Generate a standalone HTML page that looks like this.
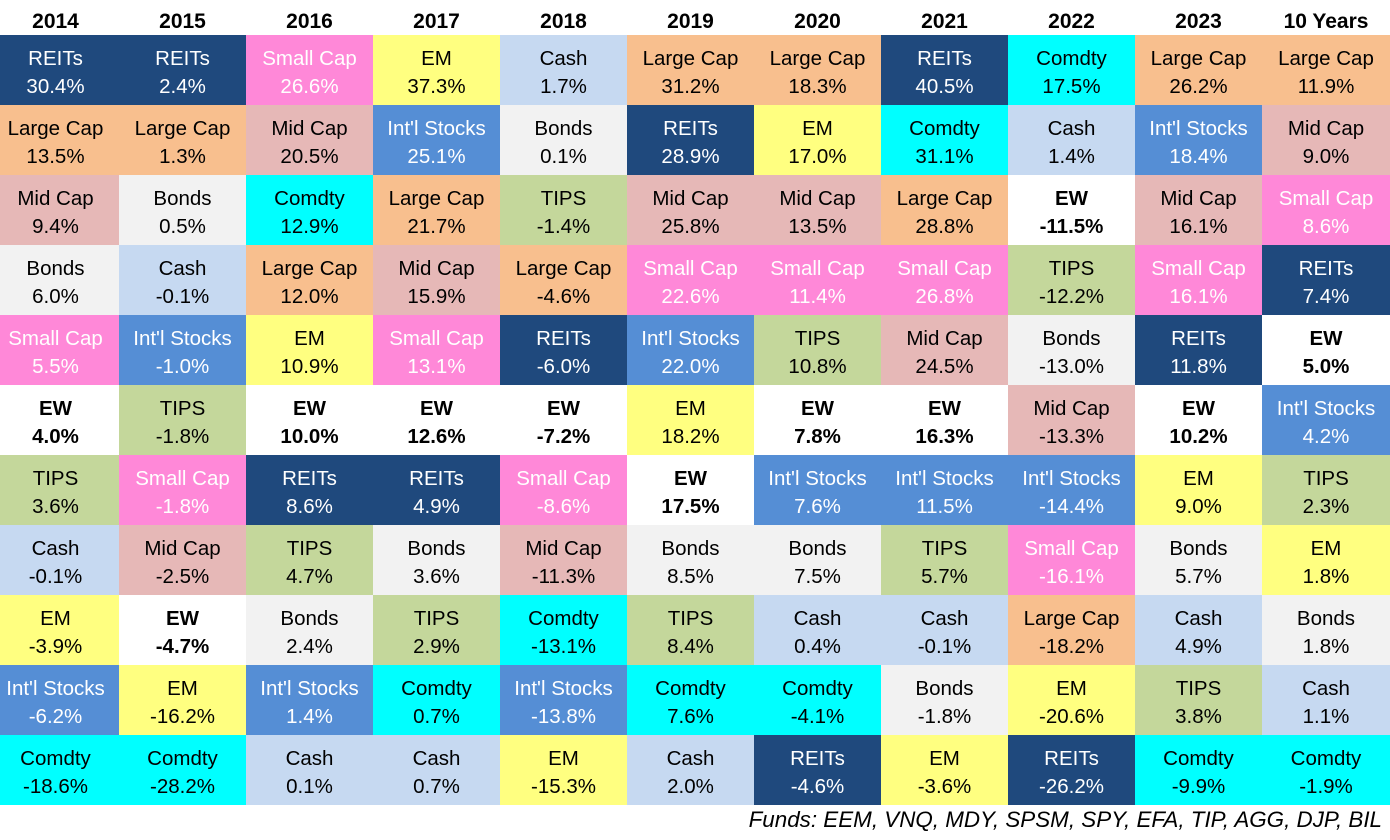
<!DOCTYPE html>
<html><head><meta charset="utf-8"><style>
body{margin:0;width:1390px;height:840px;background:#fff;position:relative;overflow:hidden;font-family:"Liberation Sans",Arial,sans-serif}
.h{position:absolute;top:0;left:-8px;display:grid;grid-template-columns:repeat(10,127px) 128px;height:35px}
.h div{text-align:center;font-weight:bold;font-size:21px;line-height:44px}
.g{position:absolute;top:35px;left:-8px;display:grid;grid-template-columns:repeat(10,127px) 128px;grid-auto-rows:70px}
.g div{text-align:center;font-size:20.5px;line-height:28px;padding-top:10px;box-sizing:border-box;color:#000}
.R{background:#1f497d;color:#fff!important}.S{background:#ff88d8;color:#fff!important}
.L{background:#f8bf8e}.M{background:#e6b8b7}.I{background:#558ed5;color:#fff!important}
.E{background:#ffff80}.C{background:#c6d9f1}.B{background:#f2f2f2}.T{background:#c4d79b}
.D{background:#00ffff}.W{background:#fff;font-weight:bold}
.f{position:absolute;right:8px;top:806px;font-style:italic;font-size:22.4px;line-height:28px}
</style></head><body>
<div class="h"><div>2014</div><div>2015</div><div>2016</div><div>2017</div><div>2018</div><div>2019</div><div>2020</div><div>2021</div><div>2022</div><div>2023</div><div>10 Years</div></div>
<div class="g">
<div class="R">REITs<br>30.4%</div><div class="R">REITs<br>2.4%</div><div class="S">Small Cap<br>26.6%</div><div class="E">EM<br>37.3%</div><div class="C">Cash<br>1.7%</div><div class="L">Large Cap<br>31.2%</div><div class="L">Large Cap<br>18.3%</div><div class="R">REITs<br>40.5%</div><div class="D">Comdty<br>17.5%</div><div class="L">Large Cap<br>26.2%</div><div class="L">Large Cap<br>11.9%</div>
<div class="L">Large Cap<br>13.5%</div><div class="L">Large Cap<br>1.3%</div><div class="M">Mid Cap<br>20.5%</div><div class="I">Int'l Stocks<br>25.1%</div><div class="B">Bonds<br>0.1%</div><div class="R">REITs<br>28.9%</div><div class="E">EM<br>17.0%</div><div class="D">Comdty<br>31.1%</div><div class="C">Cash<br>1.4%</div><div class="I">Int'l Stocks<br>18.4%</div><div class="M">Mid Cap<br>9.0%</div>
<div class="M">Mid Cap<br>9.4%</div><div class="B">Bonds<br>0.5%</div><div class="D">Comdty<br>12.9%</div><div class="L">Large Cap<br>21.7%</div><div class="T">TIPS<br>-1.4%</div><div class="M">Mid Cap<br>25.8%</div><div class="M">Mid Cap<br>13.5%</div><div class="L">Large Cap<br>28.8%</div><div class="W">EW<br>-11.5%</div><div class="M">Mid Cap<br>16.1%</div><div class="S">Small Cap<br>8.6%</div>
<div class="B">Bonds<br>6.0%</div><div class="C">Cash<br>-0.1%</div><div class="L">Large Cap<br>12.0%</div><div class="M">Mid Cap<br>15.9%</div><div class="L">Large Cap<br>-4.6%</div><div class="S">Small Cap<br>22.6%</div><div class="S">Small Cap<br>11.4%</div><div class="S">Small Cap<br>26.8%</div><div class="T">TIPS<br>-12.2%</div><div class="S">Small Cap<br>16.1%</div><div class="R">REITs<br>7.4%</div>
<div class="S">Small Cap<br>5.5%</div><div class="I">Int'l Stocks<br>-1.0%</div><div class="E">EM<br>10.9%</div><div class="S">Small Cap<br>13.1%</div><div class="R">REITs<br>-6.0%</div><div class="I">Int'l Stocks<br>22.0%</div><div class="T">TIPS<br>10.8%</div><div class="M">Mid Cap<br>24.5%</div><div class="B">Bonds<br>-13.0%</div><div class="R">REITs<br>11.8%</div><div class="W">EW<br>5.0%</div>
<div class="W">EW<br>4.0%</div><div class="T">TIPS<br>-1.8%</div><div class="W">EW<br>10.0%</div><div class="W">EW<br>12.6%</div><div class="W">EW<br>-7.2%</div><div class="E">EM<br>18.2%</div><div class="W">EW<br>7.8%</div><div class="W">EW<br>16.3%</div><div class="M">Mid Cap<br>-13.3%</div><div class="W">EW<br>10.2%</div><div class="I">Int'l Stocks<br>4.2%</div>
<div class="T">TIPS<br>3.6%</div><div class="S">Small Cap<br>-1.8%</div><div class="R">REITs<br>8.6%</div><div class="R">REITs<br>4.9%</div><div class="S">Small Cap<br>-8.6%</div><div class="W">EW<br>17.5%</div><div class="I">Int'l Stocks<br>7.6%</div><div class="I">Int'l Stocks<br>11.5%</div><div class="I">Int'l Stocks<br>-14.4%</div><div class="E">EM<br>9.0%</div><div class="T">TIPS<br>2.3%</div>
<div class="C">Cash<br>-0.1%</div><div class="M">Mid Cap<br>-2.5%</div><div class="T">TIPS<br>4.7%</div><div class="B">Bonds<br>3.6%</div><div class="M">Mid Cap<br>-11.3%</div><div class="B">Bonds<br>8.5%</div><div class="B">Bonds<br>7.5%</div><div class="T">TIPS<br>5.7%</div><div class="S">Small Cap<br>-16.1%</div><div class="B">Bonds<br>5.7%</div><div class="E">EM<br>1.8%</div>
<div class="E">EM<br>-3.9%</div><div class="W">EW<br>-4.7%</div><div class="B">Bonds<br>2.4%</div><div class="T">TIPS<br>2.9%</div><div class="D">Comdty<br>-13.1%</div><div class="T">TIPS<br>8.4%</div><div class="C">Cash<br>0.4%</div><div class="C">Cash<br>-0.1%</div><div class="L">Large Cap<br>-18.2%</div><div class="C">Cash<br>4.9%</div><div class="B">Bonds<br>1.8%</div>
<div class="I">Int'l Stocks<br>-6.2%</div><div class="E">EM<br>-16.2%</div><div class="I">Int'l Stocks<br>1.4%</div><div class="D">Comdty<br>0.7%</div><div class="I">Int'l Stocks<br>-13.8%</div><div class="D">Comdty<br>7.6%</div><div class="D">Comdty<br>-4.1%</div><div class="B">Bonds<br>-1.8%</div><div class="E">EM<br>-20.6%</div><div class="T">TIPS<br>3.8%</div><div class="C">Cash<br>1.1%</div>
<div class="D">Comdty<br>-18.6%</div><div class="D">Comdty<br>-28.2%</div><div class="C">Cash<br>0.1%</div><div class="C">Cash<br>0.7%</div><div class="E">EM<br>-15.3%</div><div class="C">Cash<br>2.0%</div><div class="R">REITs<br>-4.6%</div><div class="E">EM<br>-3.6%</div><div class="R">REITs<br>-26.2%</div><div class="D">Comdty<br>-9.9%</div><div class="D">Comdty<br>-1.9%</div>
</div>
<div class="f">Funds: EEM, VNQ, MDY, SPSM, SPY, EFA, TIP, AGG, DJP, BIL</div>
</body></html>
